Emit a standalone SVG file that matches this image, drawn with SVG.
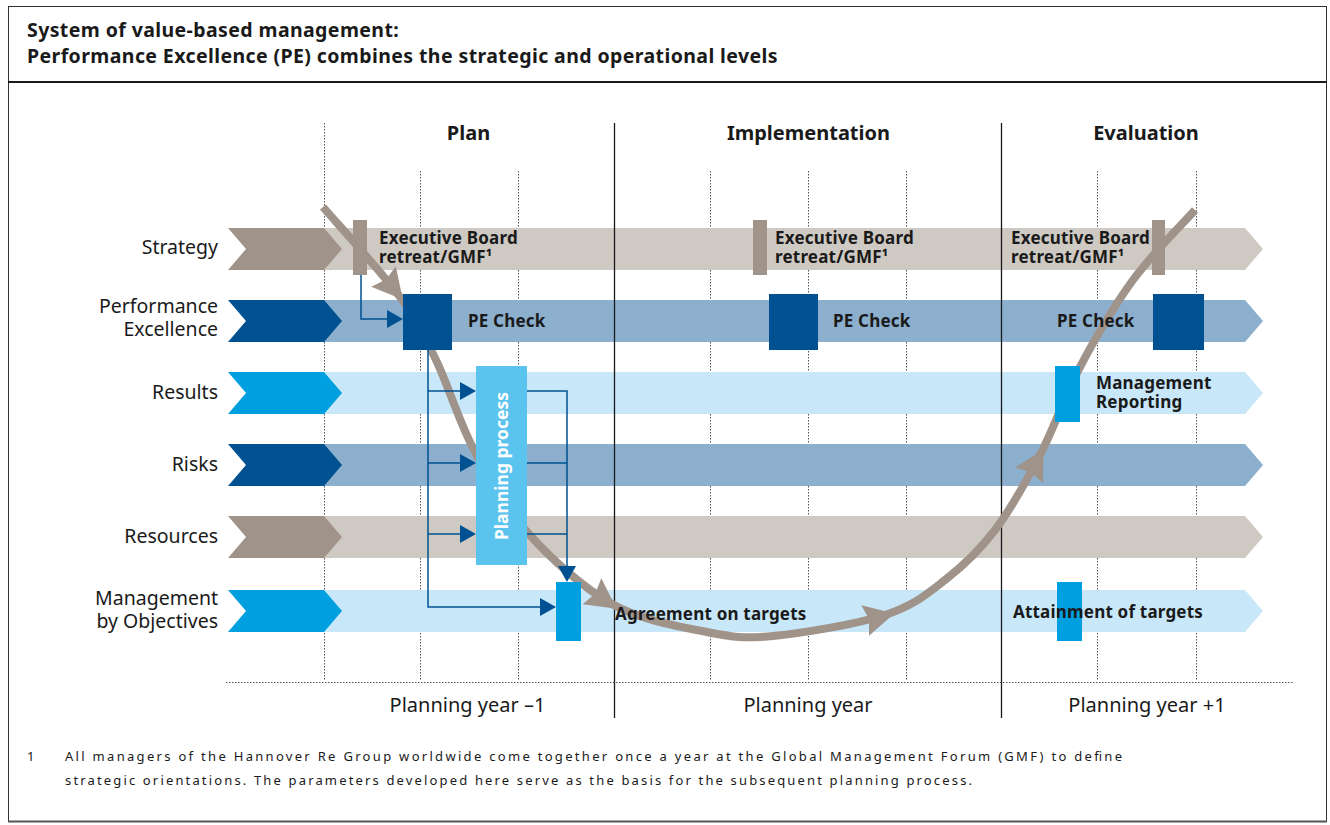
<svg xmlns="http://www.w3.org/2000/svg" width="1330" height="825" viewBox="0 0 1330 825">
<style>
text{font-family:"Noto Sans","Open Sans",sans-serif;fill:#1a1a1a}
.title{font-size:19.5px;font-weight:bold;letter-spacing:0.4px}
.hd{font-size:20px;font-weight:bold;text-anchor:middle}
.lbl{font-size:19.5px;text-anchor:end}
.bl{font-size:17px;font-weight:bold;letter-spacing:0.2px}
.yr{font-size:20px;text-anchor:middle}
.fn{font-size:13px}
.pp{font-size:17.5px;font-weight:bold;fill:#ffffff;text-anchor:middle}
.dot{stroke:#555;stroke-width:1;stroke-dasharray:1.5 1.5;fill:none}
.solid{stroke:#1a1a1a;stroke-width:1.3;fill:none}
.tL{fill:#cfc9c3}.tD{fill:#a0948a}
.bL{fill:#8bafcd}.bD{fill:#005191}
.cL{fill:#c8e7f8}.cD{fill:#009fe0}
.conn{stroke:#005191;stroke-width:1.5;fill:none}
.ah{fill:#005191}
.cv{stroke:#a0948a;stroke-width:8;fill:none}
.cah{fill:#a0948a}
</style>
<defs>
<polygon id="bar" points="324,0 1245,0 1263,21 1245,42 324,42"/>
<polygon id="chev" points="228,0 324,0 342,21 324,42 228,42 246,21"/>
</defs>

<g id="frame">
<rect x="8.5" y="6.5" width="1318" height="815" fill="#ffffff" stroke="#333" stroke-width="1"/>
<line x1="8" y1="82" x2="1327" y2="82" stroke="#1a1a1a" stroke-width="2"/>
<line x1="8" y1="821.5" x2="1327" y2="821.5" stroke="#555" stroke-width="2"/>
<text class="title" x="27" y="37">System of value-based management:</text>
<text class="title" x="27" y="63">Performance Excellence (PE) combines the strategic and operational levels</text>
</g>

<g id="grid">
<line class="dot" x1="324.5" y1="123" x2="324.5" y2="680"/>
<line class="dot" x1="420.5" y1="171" x2="420.5" y2="680"/>
<line class="dot" x1="518.5" y1="171" x2="518.5" y2="680"/>
<line class="dot" x1="710.5" y1="171" x2="710.5" y2="680"/>
<line class="dot" x1="808.5" y1="171" x2="808.5" y2="680"/>
<line class="dot" x1="906.5" y1="171" x2="906.5" y2="680"/>
<line class="dot" x1="1097.5" y1="171" x2="1097.5" y2="680"/>
<line class="dot" x1="1196.5" y1="171" x2="1196.5" y2="680"/>
<line class="dot" x1="226" y1="682.5" x2="1293" y2="682.5"/>
</g>

<g id="row-strategy">
<use href="#bar" class="tL" y="228"/><use href="#chev" class="tD" y="228"/>
<text class="lbl" x="218" y="254">Strategy</text>
</g>
<g id="row-pe">
<use href="#bar" class="bL" y="300"/><use href="#chev" class="bD" y="300"/>
<text class="lbl" x="218" y="313">Performance</text>
<text class="lbl" x="218" y="336">Excellence</text>
</g>
<g id="row-results">
<use href="#bar" class="cL" y="372"/><use href="#chev" class="cD" y="372"/>
<text class="lbl" x="218" y="399">Results</text>
</g>
<g id="row-risks">
<use href="#bar" class="bL" y="444"/><use href="#chev" class="bD" y="444"/>
<text class="lbl" x="218" y="471">Risks</text>
</g>
<g id="row-resources">
<use href="#bar" class="tL" y="516"/><use href="#chev" class="tD" y="516"/>
<text class="lbl" x="218" y="543">Resources</text>
</g>
<g id="row-mbo">
<use href="#bar" class="cL" y="590"/><use href="#chev" class="cD" y="590"/>
<text class="lbl" x="218" y="605">Management</text>
<text class="lbl" x="218" y="628">by Objectives</text>
</g>

<g id="phases">
<line class="solid" x1="614.5" y1="123" x2="614.5" y2="718"/>
<line class="solid" x1="1001.5" y1="123" x2="1001.5" y2="718"/>
<text class="hd" x="468.5" y="140">Plan</text>
<text class="hd" x="808.5" y="140">Implementation</text>
<text class="hd" x="1146" y="140">Evaluation</text>
<text class="yr" x="467.5" y="712">Planning year –1</text>
<text class="yr" x="808" y="712">Planning year</text>
<text class="yr" x="1147" y="712">Planning year +1</text>
</g>

<g id="connectors">
<path class="cv" d="M323,207 C335.8,222 381.2,271.5 400,297 C418.8,322.5 423.7,334.5 436,360 C448.3,385.5 458.8,421.3 474,450 C489.2,478.7 504,506.3 527,532 C550,557.7 582,587.3 612,604 C642,620.7 680.2,626.7 707,632 C733.8,637.3 743.3,638.8 773,636 C802.7,633.2 856.3,624.3 885,615 C913.7,605.7 926.7,594.2 945,580 C963.3,565.8 979.2,550.8 995,530 C1010.8,509.2 1025.8,482.2 1040,455 C1054.2,427.8 1064.5,396.2 1080,367 C1095.5,337.8 1113.8,306.2 1133,280 C1152.2,253.8 1184.7,221.7 1195,210"/>
<polygon class="cah" points="402.8,299.5 395.8,266.2 386.1,279.6 371.2,286.8"/>
<polygon class="cah" points="616.5,608.7 601.3,578.3 595.3,593.6 582.7,604.3"/>
<polygon class="cah" points="894.4,613.4 861.4,605.2 869.1,619.6 869,635.8"/>
<polygon class="cah" points="1043.4,449.2 1015,467.8 1030.9,472 1043,483.2"/>
<path class="conn" d="M361,275 V319 H388"/>
<path class="conn" d="M428,350 V607 H541"/>
<path class="conn" d="M428,391 H461 M428,463 H461 M428,534 H461"/>
<path class="conn" d="M527,391 H567 V567 M527,463 H567 M527,534 H567"/>
<polygon class="ah" points="403,319 387,310 387,328"/>
<polygon class="ah" points="476,391 460,382 460,400"/>
<polygon class="ah" points="476,463 460,454 460,472"/>
<polygon class="ah" points="476,534 460,525 460,543"/>
<polygon class="ah" points="556,607 540,598 540,616"/>
<polygon class="ah" points="567,582 558,566 576,566"/>
</g>

<g id="exec-board-1">
<rect x="353" y="220" width="14" height="55" class="tD"/>
<text class="bl" x="379" y="243.5">Executive Board</text>
<text class="bl" x="379" y="263">retreat/GMF¹</text>
</g>
<g id="exec-board-2">
<rect x="753" y="220" width="14" height="55" class="tD"/>
<text class="bl" x="775" y="243.5">Executive Board</text>
<text class="bl" x="775" y="263">retreat/GMF¹</text>
</g>
<g id="exec-board-3">
<rect x="1152" y="220" width="13" height="55" class="tD"/>
<text class="bl" x="1011" y="243.5">Executive Board</text>
<text class="bl" x="1011" y="263">retreat/GMF¹</text>
</g>

<g id="pe-check-1">
<rect x="403" y="294" width="49" height="56" class="bD"/>
<text class="bl" x="468" y="327">PE Check</text>
</g>
<g id="pe-check-2">
<rect x="769" y="294" width="49" height="56" class="bD"/>
<text class="bl" x="833" y="327">PE Check</text>
</g>
<g id="pe-check-3">
<rect x="1153" y="294" width="51" height="56" class="bD"/>
<text class="bl" x="1057" y="327">PE Check</text>
</g>

<g id="planning-process">
<rect x="476" y="366" width="51" height="199" fill="#5bc4ee"/>
<text class="pp" transform="translate(507.5,466) rotate(-90)">Planning process</text>
</g>

<g id="agreement">
<rect x="556" y="582" width="25" height="59" class="cD"/>
<text class="bl" x="615" y="620">Agreement on targets</text>
</g>

<g id="mgmt-reporting">
<rect x="1055" y="366" width="25" height="56" class="cD"/>
<text class="bl" x="1096" y="389">Management</text>
<text class="bl" x="1096" y="408">Reporting</text>
</g>

<g id="attainment">
<rect x="1057" y="582" width="25" height="59" class="cD"/>
<text class="bl" x="1013" y="618">Attainment of targets</text>
</g>

<g id="footnote">
<text class="fn" x="27" y="761">1</text>
<text class="fn" x="65" y="761" textLength="1057" lengthAdjust="spacing">All managers of the Hannover Re Group worldwide come together once a year at the Global Management Forum (GMF) to define</text>
<text class="fn" x="65" y="785" textLength="907" lengthAdjust="spacing">strategic orientations. The parameters developed here serve as the basis for the subsequent planning process.</text>
</g>
</svg>
